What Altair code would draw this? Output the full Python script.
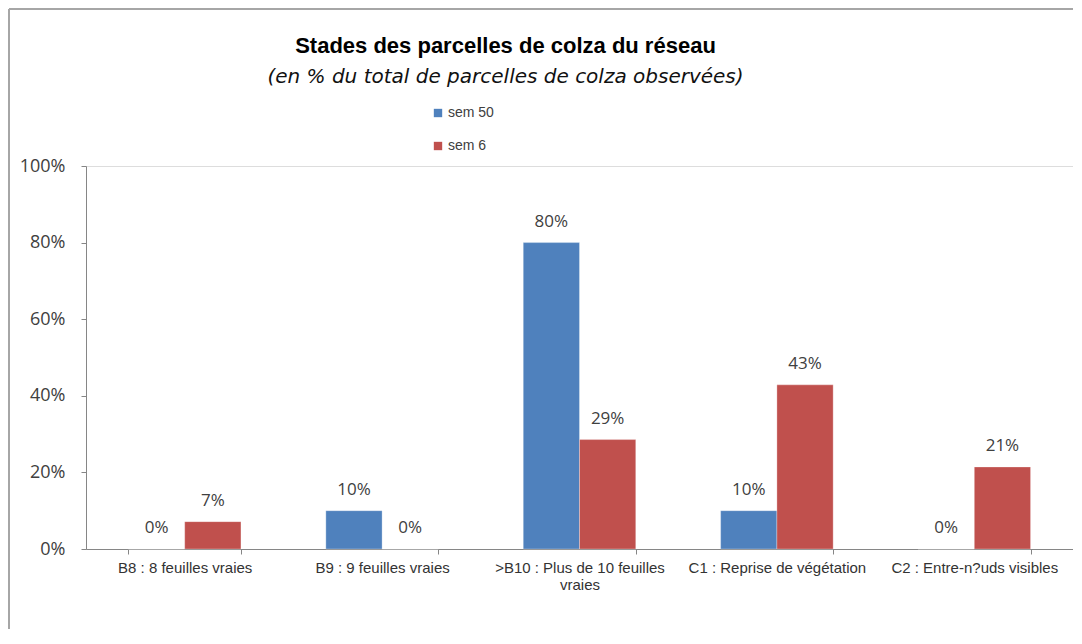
import altair as alt
import pandas as pd

categories = [
    "B8 : 8 feuilles vraies",
    "B9 : 9 feuilles vraies",
    ">B10 : Plus de 10 feuilles vraies",
    "C1 : Reprise de végétation",
    "C2 : Entre-n?uds visibles",
]
series = ["sem 50", "sem 6"]
sem50 = [0.0, 0.10, 0.80, 0.10, 0.0]
sem6 = [0.0714, 0.0, 0.2857, 0.4286, 0.2143]
colors = ["#4F81BD", "#C0504D"]
y_ticks = [0, 0.2, 0.4, 0.6, 0.8, 1.0]

rows = []
for c, a, b in zip(categories, sem50, sem6):
    rows.append({"stade": c, "serie": series[0], "val": a})
    rows.append({"stade": c, "serie": series[1], "val": b})
df = pd.DataFrame(rows)

xenc = alt.X(
    "stade:N",
    sort=categories,
    scale=alt.Scale(paddingInner=0.43, paddingOuter=0.215),
    axis=alt.Axis(
        title=None,
        labelAngle=0,
        labelFont="Liberation Sans",
        labelFontSize=15,
        labelColor="#333333",
        labelPadding=6,
        labelLimit=0,
        tickBand="extent",
        tickSize=5,
        tickColor="#868686",
        domainColor="#868686",
        labelExpr="datum.label == '>B10 : Plus de 10 feuilles vraies' ? ['>B10 : Plus de 10 feuilles', 'vraies'] : datum.label",
    ),
)
yenc = alt.Y(
    "val:Q",
    scale=alt.Scale(domain=[0, 1], nice=False),
    axis=alt.Axis(
        title=None,
        values=y_ticks,
        format=".0%",
        grid=False,
        labelFont="Open Sans",
        labelFontSize=18,
        labelColor="#404040",
        labelPadding=16,
        tickSize=5,
        tickColor="#868686",
        domainColor="#868686",
    ),
)

base = alt.Chart(df).encode(
    x=xenc,
    xOffset=alt.XOffset("serie:N", sort=series, scale=alt.Scale(paddingInner=0, paddingOuter=0)),
    y=yenc,
)

bars = base.mark_bar(stroke="white", strokeWidth=0.5, strokeOpacity=0.6).encode(
    color=alt.Color(
        "serie:N",
        sort=series,
        scale=alt.Scale(domain=series, range=colors),
        legend=alt.Legend(
            title=None,
            orient="none",
            legendX=345,
            legendY=-60,
            symbolType="square",
            symbolSize=70,
            symbolStrokeWidth=0,
            labelFont="Liberation Sans",
            labelFontSize=14,
            labelColor="#404040",
            rowPadding=19,
            labelOffset=3,
        ),
    )
)

labels = base.mark_text(
    dy=-21, font="Open Sans", fontSize=17, color="#404040"
).encode(text=alt.Text("val:Q", format=".0%"))

frame_top = alt.Chart(df).mark_rule(color="#A6A6A6", strokeWidth=1.5).encode(
    x=alt.value(-77), x2=alt.value(987), y=alt.value(-157)
)
frame_left = alt.Chart(df).mark_rule(color="#A6A6A6", strokeWidth=1.5).encode(
    x=alt.value(-77), y=alt.value(-157), y2=alt.value(463)
)

chart = (
    alt.layer(bars, labels, frame_top, frame_left)
    .properties(
        width=987,
        height=383,
        autosize=alt.AutoSizeParams(type="none"),
        padding={"left": 78, "top": 158, "right": 0, "bottom": 80},
        title=alt.TitleParams(
            text="Stades des parcelles de colza du réseau",
            subtitle="(en %  du total de parcelles de colza observées)",
            font="Liberation Sans",
            fontSize=22,
            fontWeight="bold",
            color="#000000",
            subtitleFont="DejaVu Sans",
            subtitleFontSize=20,
            subtitleFontStyle="italic",
            subtitleColor="#111111",
            subtitlePadding=9,
            anchor="middle",
            dx=-74,
            offset=-80,
        ),
    )
    .configure_view(stroke=None)
    .configure(background="white")
)

chart.save("out.html", embed_options={"renderer": "svg", "actions": False})
